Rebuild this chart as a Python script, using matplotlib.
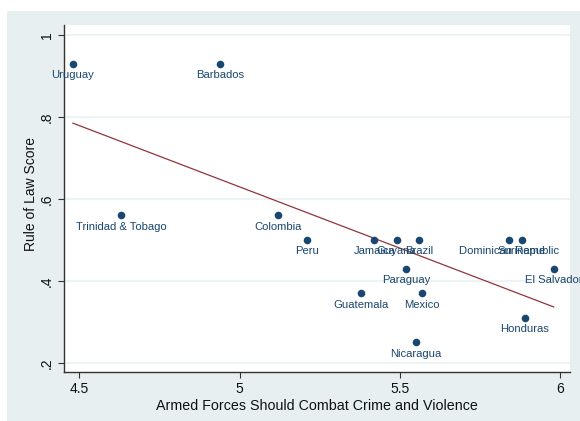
import matplotlib
matplotlib.use("Agg")
import matplotlib.pyplot as plt
from matplotlib.patches import Rectangle
import numpy as np

plt.rcParams['font.family'] = ['Liberation Sans', 'DejaVu Sans']

# Countries, support for armed forces fighting crime, rule of law score
paises = ["Uruguay", "Barbados", "Trinidad & Tobago", "Colombia", "Peru",
          "Jamaica", "Guyana", "Brazil", "Paraguay", "Guatemala", "Mexico",
          "Nicaragua", "Dominican Republic", "Suriname", "El Salvador", "Honduras"]
forcas_armadas = [4.48, 4.94, 4.63, 5.12, 5.21,
                  5.42, 5.49, 5.56, 5.52, 5.38, 5.57,
                  5.55, 5.84, 5.88, 5.98, 5.89]
estado_direito = [0.93, 0.93, 0.56, 0.56, 0.50,
                  0.50, 0.50, 0.50, 0.43, 0.37, 0.37,
                  0.25, 0.50, 0.50, 0.43, 0.31]

x_ticks = [4.5, 5, 5.5, 6]
x_tick_labels = ["4.5", "5", "5.5", "6"]
y_ticks = [0.2, 0.4, 0.6, 0.8, 1.0]
y_tick_labels = [".2", ".4", ".6", ".8", "1"]

azul = "#1a476f"
vinho = "#90353b"
fundo = "#e8eff1"

fig = plt.figure(figsize=(5.8, 4.21), dpi=100)
fig.patches.append(Rectangle((7 / 580, 0), 1, 1 - 11 / 421,
                             transform=fig.transFigure, facecolor=fundo,
                             edgecolor="none", zorder=-10))

ax = fig.add_axes([64 / 580, 1 - 372 / 421, 506 / 580, 347 / 421])
ax.set_facecolor("white")

# Linha de regressão linear
x = np.array(forcas_armadas)
y = np.array(estado_direito)
coef = np.polyfit(x, y, 1)
xs = np.array([x.min(), x.max()])
ax.plot(xs, np.polyval(coef, xs), color=vinho, lw=0.9, zorder=2)

ax.scatter(x, y, s=30, color=azul, zorder=3, linewidths=0)

# Rótulos abaixo de cada ponto (podem sair da área do gráfico)
for nome, xi, yi in zip(paises, forcas_armadas, estado_direito):
    ax.annotate(nome, (xi, yi), xytext=(0, -8.2), textcoords="offset points",
                ha="center", va="center", fontsize=8.1, color=azul, zorder=3,
                annotation_clip=False)

ax.set_xlim(4.452, 6.031)
ax.set_ylim(0.178, 1.024)
ax.set_xticks(x_ticks)
ax.set_xticklabels(x_tick_labels)
ax.set_yticks(y_ticks)
ax.set_yticklabels(y_tick_labels, rotation=90, va="center")

for v in y_ticks:
    ax.axhline(v, color="#eaf2f3", lw=1.2, zorder=1)

for lado in ["top", "right"]:
    ax.spines[lado].set_visible(False)
for lado in ["left", "bottom"]:
    ax.spines[lado].set_color("#333333")
    ax.spines[lado].set_linewidth(1.0)

ax.tick_params(axis="both", direction="out", length=4.5, width=0.8,
               color="#333333", labelsize=10, labelcolor="#111111", pad=3)

ax.set_xlabel("Armed Forces Should Combat Crime and Violence", fontsize=10.3,
              color="#111111", labelpad=2)
ax.set_ylabel("Rule of Law Score", fontsize=10, color="#111111")
ax.yaxis.label.set_rotation_mode("default")
ax.yaxis.label.set_va("center")
ax.yaxis.label.set_ha("center")
ax.yaxis.set_label_coords(-0.066, 0.513)

fig.savefig("out.png", dpi=100)
